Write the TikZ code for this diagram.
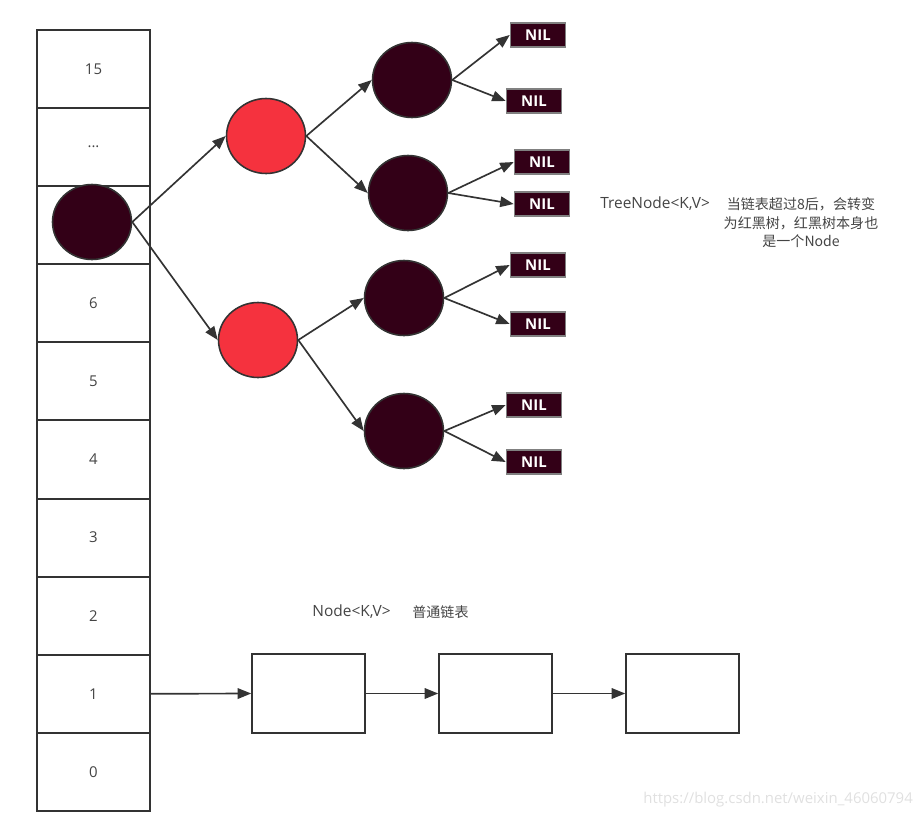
\documentclass[tikz,border=0pt]{standalone}
\usepackage{fontspec}
\setmainfont{Open Sans}
\newfontfamily\cjkfont{Noto Sans CJK SC}
\usetikzlibrary{arrows.meta,shapes.geometric}
\definecolor{nodedark}{HTML}{330017}
\definecolor{nodered}{HTML}{F5323E}
\definecolor{linegray}{HTML}{333333}
\definecolor{textgray}{HTML}{444444}

\begin{document}
\begin{tikzpicture}[x=0.02cm,y=-0.02cm]
\tikzset{
  cell/.style={rectangle,draw=linegray,line width=1.1pt,minimum width=2.26cm,minimum height=1.562cm,inner sep=0pt,text=textgray,font=\fontsize{8.5}{10}\selectfont},
  darknode/.style={ellipse,draw=linegray,line width=0.9pt,fill=nodedark,minimum width=1.58cm,minimum height=1.5cm,inner sep=0pt},
  rednode/.style={ellipse,draw=linegray,line width=0.9pt,fill=nodered,minimum width=1.58cm,minimum height=1.5cm,inner sep=0pt},
  nilbox/.style={rectangle,draw=gray,line width=0.9pt,fill=nodedark,minimum width=1.1cm,minimum height=0.47cm,inner sep=0pt,text=white,font=\fontsize{8.5}{9}\selectfont\bfseries},
  listbox/.style={rectangle,draw=linegray,line width=0.9pt,minimum width=2.26cm,minimum height=1.58cm,inner sep=0pt},
  note/.style={text=textgray,font=\fontsize{8.8}{10.5}\selectfont,inner sep=0pt},
  cjknote/.style={text=textgray,font=\cjkfont\fontsize{8}{10.5}\selectfont,inner sep=0pt},
  directed/.style={-{Triangle[length=2.7mm,width=2.1mm]},line width=0.95pt,draw=linegray}
}
\useasboundingbox (0,0) rectangle (923,818);
% table of buckets
\node[cell] (c_15) at (93.5,69.0) {15};
\node[cell] (c_dots) at (93.5,147.1) {...};
\node[cell] (c_7) at (93.5,225.2) {};
\node[cell] (c_6) at (93.5,303.3) {6};
\node[cell] (c_5) at (93.5,381.4) {5};
\node[cell] (c_4) at (93.5,459.5) {4};
\node[cell] (c_3) at (93.5,537.6) {3};
\node[cell] (c_2) at (93.5,615.7) {2};
\node[cell] (c_1) at (93.5,693.8) {1};
\node[cell] (c_0) at (93.5,771.9) {0};
% red black tree
\node[darknode] (t_root) at (92,222) {};
\node[rednode] (t_L) at (266,136) {};
\node[rednode] (t_R) at (258,340) {};
\node[darknode] (t_LL) at (412,80) {};
\node[darknode] (t_LR) at (408,193) {};
\node[darknode] (t_RL) at (404,298) {};
\node[darknode] (t_RR) at (404,431) {};
\node[nilbox] (nil_1) at (538,35) {NIL};
\node[nilbox] (nil_2) at (534,101) {NIL};
\node[nilbox] (nil_3) at (542,162) {NIL};
\node[nilbox] (nil_4) at (542,204) {NIL};
\node[nilbox] (nil_5) at (538,265) {NIL};
\node[nilbox] (nil_6) at (538,324) {NIL};
\node[nilbox] (nil_7) at (534,405) {NIL};
\node[nilbox] (nil_8) at (534,462) {NIL};
\draw[directed] (t_root.east) -- (t_L.west);
\draw[directed] (t_root.east) -- (t_R.west);
\draw[directed] (t_L.east) -- (t_LL.west);
\draw[directed] (t_L.east) -- (t_LR.west);
\draw[directed] (t_R.east) -- (t_RL.west);
\draw[directed] (t_R.east) -- (t_RR.west);
\draw[directed] (t_LL.east) -- (nil_1.west);
\draw[directed] (t_LL.east) -- (nil_2.west);
\draw[directed] (t_LR.east) -- (nil_3.west);
\draw[directed] (t_LR.east) -- (nil_4.west);
\draw[directed] (t_RL.east) -- (nil_5.west);
\draw[directed] (t_RL.east) -- (nil_6.west);
\draw[directed] (t_RR.east) -- (nil_7.west);
\draw[directed] (t_RR.east) -- (nil_8.west);
% linked list
\node[listbox] (l_1) at (308.5,693.5) {};
\node[listbox] (l_2) at (495.5,693.5) {};
\node[listbox] (l_3) at (682.5,693.5) {};
\draw[directed] (c_1.east) -- (l_1.west);
\draw[directed] (l_1.east) -- (l_2.west);
\draw[directed] (l_2.east) -- (l_3.west);
% labels
\node[note,anchor=west] (lab_tree) at (600,204) {TreeNode<K,V>};
\node[cjknote,align=center] (lab_treecn) at (801,223) {当链表超过8后，会转变\\为红黑树，红黑树本身也\\是一个Node};
\node[note,anchor=west] (lab_node) at (312,612) {Node<K,V>};
\node[cjknote,anchor=west] (lab_nodecn) at (412,612) {普通链表};
\node[note,anchor=west,text=black!12,font=\fontsize{8.5}{10}\selectfont] (lab_mark) at (643,800) {https://blog.csdn.net/weixin\_46060794};
\end{tikzpicture}
\end{document}
